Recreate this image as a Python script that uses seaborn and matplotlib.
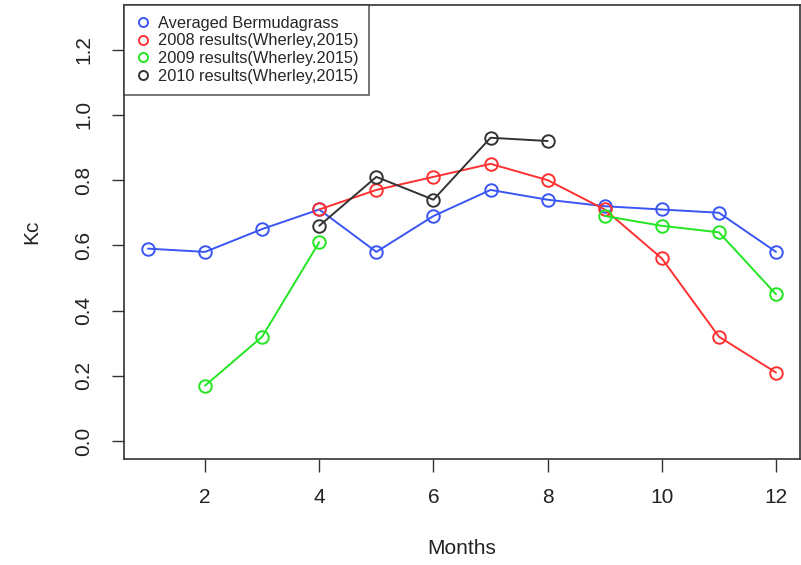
import numpy as np
import pandas as pd
import matplotlib
matplotlib.use("Agg")
import matplotlib.pyplot as plt
from matplotlib.lines import Line2D
import seaborn as sns

months = list(range(1, 13))
avg_bermuda = [0.59, 0.58, 0.65, 0.71, 0.58, 0.69, 0.77, 0.74, 0.72, 0.71, 0.70, 0.58]
r2008 = [np.nan, np.nan, np.nan, 0.71, 0.77, 0.81, 0.85, 0.80, 0.71, 0.56, 0.32, 0.21]
r2009 = [np.nan, 0.17, 0.32, 0.61, np.nan, np.nan, np.nan, np.nan, 0.69, 0.66, 0.64, 0.45]
r2010 = [np.nan, np.nan, np.nan, 0.66, 0.81, 0.74, 0.93, 0.92, np.nan, np.nan, np.nan, np.nan]

labels = ["Averaged Bermudagrass", "2008 results(Wherley,2015)",
          "2009 results(Wherley.2015)", "2010 results(Wherley,2015)"]
colors = ["#3a55f5", "#ff3030", "#22e622", "#333333"]
series = [avg_bermuda, r2008, r2009, r2010]

# build long-form data with segment ids so gaps break lines
rows = []
for lab, vals in zip(labels, series):
    seg = 0
    prev_nan = True
    for m, v in zip(months, vals):
        if np.isnan(v):
            prev_nan = True
            continue
        if prev_nan:
            seg += 1
            prev_nan = False
        rows.append({"month": m, "kc": v, "series": lab, "seg": f"{lab}_{seg}"})
df = pd.DataFrame(rows)

sns.set_style("white")
plt.rcParams["font.family"] = ["Liberation Sans", "DejaVu Sans"]

fig = plt.figure(figsize=(8.01, 5.65), dpi=100)
ax = fig.add_axes([124 / 801, (565 - 459) / 565, (800 - 124) / 801, 454 / 565])

palette = dict(zip(labels, colors))
sns.lineplot(data=df, x="month", y="kc", hue="series", units="seg", estimator=None,
             palette=palette, hue_order=labels, marker="o", markersize=9,
             markerfacecolor="none", markeredgewidth=1.4, linewidth=1.4,
             legend=False, ax=ax, sort=True)
for line in ax.lines:
    line.set_markeredgecolor(line.get_color())
    line.set_markerfacecolor("none")

ax.set_xlim(0.58, 12.42)
ax.set_ylim(-0.055, 1.337)
ax.set_xticks([2, 4, 6, 8, 10, 12])
ax.set_yticks([0.0, 0.2, 0.4, 0.6, 0.8, 1.0, 1.2])
ax.set_yticklabels(["0.0", "0.2", "0.4", "0.6", "0.8", "1.0", "1.2"], rotation=90, va="center")
ax.tick_params(axis="both", direction="out", length=9, width=1.0, color="#333333",
               labelsize=15, labelcolor="#222222", left=True, bottom=True)
ax.tick_params(axis="y", pad=13)
ax.tick_params(axis="x", pad=12)
for s in ax.spines.values():
    s.set_visible(True)
    s.set_color("#333333")
    s.set_linewidth(1.2)

ax.set_xlabel("Months", fontsize=15, color="#222222", labelpad=23)
ax.set_ylabel("Kc", fontsize=15, color="#222222", labelpad=24)

handles = [Line2D([], [], linestyle="none", marker="o", markersize=6.5,
                  markerfacecolor="none", markeredgecolor=c, markeredgewidth=1.4)
           for c in colors]
leg = ax.legend(handles, labels, loc="upper left", bbox_to_anchor=(0, 1),
                frameon=True, fancybox=False, fontsize=11.8, handlelength=1.0,
                handletextpad=0.4, borderpad=0.65, labelspacing=0.17, borderaxespad=0)
leg.get_frame().set_edgecolor("#333333")
leg.get_frame().set_linewidth(1.2)

fig.savefig("out.png", dpi=100)
